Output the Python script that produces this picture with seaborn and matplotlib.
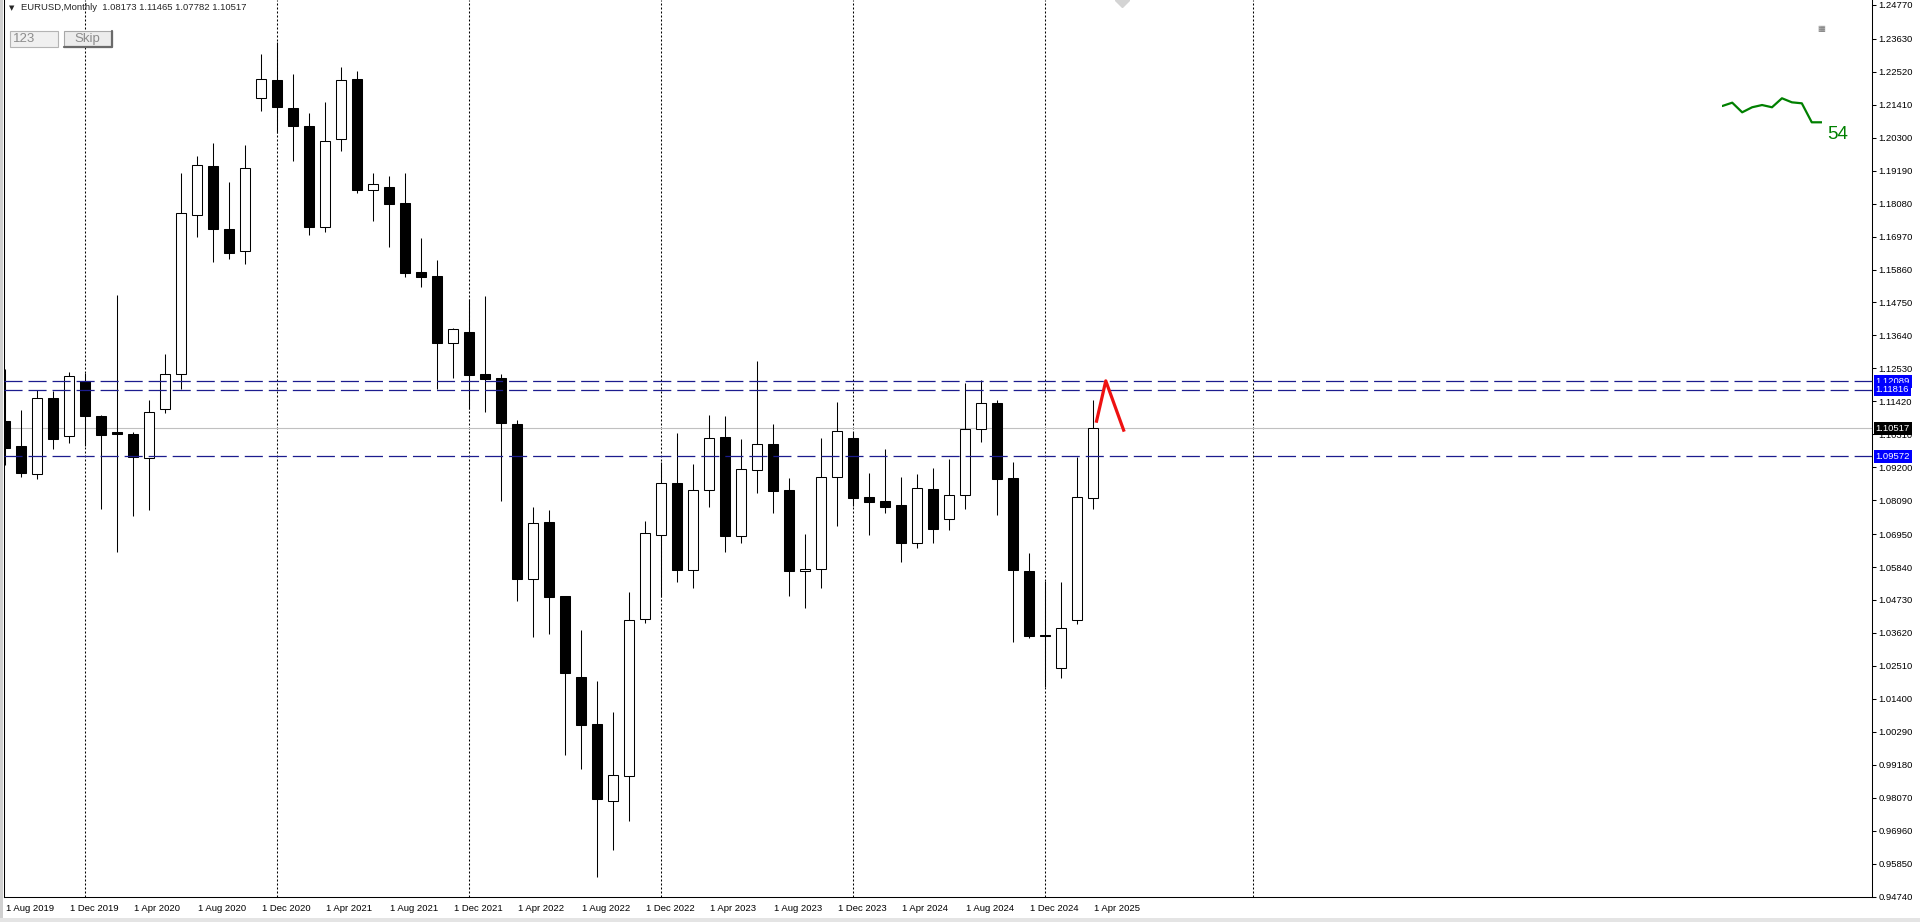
import numpy as np
import pandas as pd
import matplotlib
matplotlib.use("Agg")
import matplotlib.pyplot as plt
import matplotlib.transforms as mtransforms
from matplotlib.patches import Rectangle
from matplotlib.lines import Line2D
import seaborn as sns

sns.set_style("white")
plt.rcParams['font.family'] = ['Liberation Sans', 'DejaVu Sans']
plt.rcParams['lines.scale_dashes'] = False

W, H = 1920, 922

# monthly EURUSD candles, Aug 2019 .. Apr 2025
months = pd.date_range('2019-08-01', '2025-04-01', freq='MS')
opens = [1.1076, 1.0992, 1.0897, 1.1152, 1.1024, 1.1209, 1.1093, 1.1038, 1.1032, 1.0950,
         1.1115, 1.1233, 1.1769, 1.1935, 1.1722, 1.1649, 1.2163, 1.2224, 1.2129, 1.2069,
         1.1728, 1.2025, 1.2228, 1.1855, 1.1864, 1.1811, 1.1578, 1.1564, 1.1340, 1.1375,
         1.1234, 1.1220, 1.1067, 1.0545, 1.0735, 1.0486, 1.0214, 1.0055, 0.9795, 0.9881,
         1.0408, 1.0691, 1.0866, 1.0575, 1.0843, 1.1021, 1.0687, 1.0910, 1.0998, 1.0843,
         1.0572, 1.0576, 1.0888, 1.1018, 1.0820, 1.0806, 1.0793, 1.0666, 1.0847, 1.0745,
         1.0826, 1.1048, 1.1135, 1.0883, 1.0571, 1.0356, 1.0243, 1.0406, 1.08173]
highs = [1.1250, 1.1113, 1.1180, 1.1177, 1.1241, 1.1239, 1.1096, 1.1500, 1.1039, 1.1147,
         1.1300, 1.1910, 1.1968, 1.2011, 1.1881, 1.2006, 1.2312, 1.2353, 1.2245, 1.2112,
         1.2151, 1.2268, 1.2255, 1.1910, 1.1901, 1.1910, 1.1691, 1.1618, 1.1388, 1.1486,
         1.1497, 1.1233, 1.1079, 1.0787, 1.0776, 1.0486, 1.0372, 1.0200, 1.0097, 1.0501,
         1.0739, 1.0939, 1.1034, 1.0930, 1.1096, 1.1093, 1.1014, 1.1278, 1.1066, 1.0883,
         1.0694, 1.1018, 1.1139, 1.1040, 1.0900, 1.0982, 1.0886, 1.0896, 1.0917, 1.0947,
         1.1203, 1.1214, 1.1147, 1.0939, 1.0630, 1.0537, 1.0532, 1.0956, 1.11465]
lows = [1.0926, 1.0886, 1.0880, 1.0981, 1.1003, 1.0992, 1.0778, 1.0635, 1.0755, 1.0775,
        1.1102, 1.1183, 1.1696, 1.1612, 1.1622, 1.1603, 1.2121, 1.2045, 1.1953, 1.1703,
        1.1713, 1.1986, 1.1845, 1.1751, 1.1663, 1.1562, 1.1526, 1.1183, 1.1222, 1.1115,
        1.1107, 1.0806, 1.0470, 1.0349, 1.0358, 0.9951, 0.9903, 0.9539, 0.9631, 0.9730,
        1.0394, 1.0484, 1.0533, 1.0515, 1.0787, 1.0636, 1.0664, 1.0834, 1.0765, 1.0488,
        1.0447, 1.0515, 1.0723, 1.0791, 1.0692, 1.0767, 1.0602, 1.0649, 1.0666, 1.0709,
        1.0779, 1.1004, 1.0759, 1.0333, 1.0344, 1.0181, 1.0211, 1.0391, 1.07782]
closes = [1.0986, 1.0900, 1.1152, 1.1016, 1.1228, 1.1094, 1.1027, 1.1031, 1.0954, 1.1105,
          1.1233, 1.1775, 1.1938, 1.1722, 1.1643, 1.1927, 1.2227, 1.2135, 1.2071, 1.1730,
          1.2019, 1.2224, 1.1854, 1.1873, 1.1808, 1.1575, 1.1562, 1.1340, 1.1386, 1.1231,
          1.1218, 1.1068, 1.0545, 1.0733, 1.0484, 1.0226, 1.0053, 0.9802, 0.9883, 1.0405,
          1.0700, 1.0866, 1.0575, 1.0843, 1.1018, 1.0690, 1.0913, 1.0997, 1.0841, 1.0571,
          1.0576, 1.0888, 1.1041, 1.0818, 1.0804, 1.0787, 1.0666, 1.0849, 1.0713, 1.0826,
          1.1048, 1.1135, 1.0881, 1.0575, 1.0350, 1.0351, 1.0378, 1.0819, 1.10517]

date_labels = ['1 Aug 2019', '1 Dec 2019', '1 Apr 2020', '1 Aug 2020', '1 Dec 2020',
               '1 Apr 2021', '1 Aug 2021', '1 Dec 2021', '1 Apr 2022', '1 Aug 2022',
               '1 Dec 2022', '1 Apr 2023', '1 Aug 2023', '1 Dec 2023', '1 Apr 2024',
               '1 Aug 2024', '1 Dec 2024', '1 Apr 2025']
price_ticks = [1.24770, 1.23630, 1.22520, 1.21410, 1.20300, 1.19190, 1.18080, 1.16970,
               1.15860, 1.14750, 1.13640, 1.12530, 1.11420, 1.10310, 1.09200, 1.08090,
               1.06950, 1.05840, 1.04730, 1.03620, 1.02510, 1.01400, 1.00290, 0.99180,
               0.98070, 0.96960, 0.95850, 0.94740]

levels = [1.12089, 1.11816, 1.09572]
bid = 1.10517
separators = ['2020-01', '2021-01', '2022-01', '2023-01', '2024-01', '2025-01', '2026-02']

# hand drawn red "peak" trendline (bar index, price)
red_x = [68.2, 68.8, 69.95]
red_y = [1.1070, 1.1211, 1.1040]

# small green indicator in the corner
spark_v = [54.91, 55.28, 54.21, 54.77, 55.02, 54.77, 55.77, 55.32, 55.21, 53.10, 53.10]

df = pd.DataFrame({'date': months, 'open': opens, 'high': highs, 'low': lows, 'close': closes})
df['i'] = np.arange(len(df))
up = df['close'] >= df['open']


def fx(px):
    return px / W


def fy(py):
    return 1 - py / H


fig = plt.figure(figsize=(W / 100, H / 100), dpi=100)
fig.patch.set_facecolor('white')
ax = fig.add_axes([fx(4), fy(897), fx(1872) - fx(4), fy(0) - fy(897)])
ax.set_facecolor('white')

# candles
ax.vlines(df['i'], df['low'], df['high'], color='black', lw=0.75, zorder=3)
body_lo = df[['open', 'close']].min(axis=1)
body_h = (df['close'] - df['open']).abs().clip(lower=0.00025)
ax.bar(df['i'][up], body_h[up], bottom=body_lo[up], width=0.6,
       color='white', edgecolor='black', lw=0.75, zorder=4)
ax.bar(df['i'][~up], body_h[~up], bottom=body_lo[~up], width=0.6,
       color='black', edgecolor='black', lw=0.75, zorder=4)

# period separators
for s in separators:
    k = (pd.Period(s, 'M') - pd.Period('2019-08', 'M')).n
    ax.axvline(k, color='black', lw=0.75, dashes=(1.44, 1.44), zorder=1)

ax.axhline(bid, color='#c0c0c0', lw=0.8, zorder=1)
for lv in levels:
    ax.axhline(lv, color='#1c1c8e', lw=0.9, dashes=(13, 4.3), zorder=5)

ax.plot(red_x, red_y, color='#ee1111', lw=2.3, solid_capstyle='butt', zorder=6)
ax.plot([69.8], [1.24938], marker='D', ms=7, color='#d4d4d4', zorder=2)

ax.set_xlim(-0.0625, 116.69)
ax.set_ylim(0.94726, 1.24938)

for side in ['left', 'right', 'bottom']:
    ax.spines[side].set_color('black')
    ax.spines[side].set_linewidth(0.75)
ax.spines['top'].set_visible(False)

ax.yaxis.tick_right()
ax.set_yticks(price_ticks)
ax.set_yticklabels([f'{v:.5f}' for v in price_ticks], fontsize=6.8)
ax.tick_params(axis='y', direction='out', length=3, width=0.75, pad=1.5, colors='black')

ax.set_xticks(np.arange(0, len(df), 4))
ax.set_xticklabels(date_labels, fontsize=6.8, ha='left')
ax.tick_params(axis='x', direction='out', length=3, width=0.75, pad=2, colors='black')
shift = mtransforms.ScaledTranslation(1 / 100, 0, fig.dpi_scale_trans)
for lab in ax.get_xticklabels():
    lab.set_transform(lab.get_transform() + shift)

# price labels on the scale
yt = ax.get_yaxis_transform()
tx = (1875.5 - 4) / (1872 - 4)
for lv in levels:
    ax.text(tx, lv, f'{lv:.5f}', transform=yt, ha='left', va='center', fontsize=6.8,
            color='white', bbox=dict(boxstyle='square,pad=0.2', fc='#0000ff', ec='none'),
            clip_on=False, zorder=7)
ax.text(tx, bid, f'{bid:.5f}', transform=yt, ha='left', va='center', fontsize=6.8,
        color='white', bbox=dict(boxstyle='square,pad=0.2', fc='black', ec='none'),
        clip_on=False, zorder=7)

# header and buttons
fig.text(fx(9), fy(8), '\u25bc', fontsize=5, family='DejaVu Sans', va='center')
fig.text(fx(21), fy(7.5), 'EURUSD,Monthly  1.08173 1.11465 1.07782 1.10517',
         fontsize=6.8, va='center', ha='left')
fig.add_artist(Rectangle((fx(9.5), fy(47)), fx(48.5), 16 / H, transform=fig.transFigure,
                         fc='#f0f0f0', ec='#b4b4b4', lw=0.8))
fig.text(fx(13), fy(39), '123', fontsize=9.5, color='#8c8c8c', va='center')
fig.add_artist(Rectangle((fx(63.5), fy(47)), fx(48.5), 16 / H, transform=fig.transFigure,
                         fc='#ececec', ec='#a8a8a8', lw=0.8))
fig.add_artist(Line2D([fx(64), fx(112), fx(112)], [fy(47), fy(47), fy(31)],
                      transform=fig.transFigure, color='#6a6a6a', lw=1.6))
fig.text(fx(87.5), fy(39), 'Skip', fontsize=9.5, color='#8c8c8c', va='center', ha='center')

# window border
fig.add_artist(Rectangle((0, 0), fx(3), 1, transform=fig.transFigure, fc='#d0d0d0', ec='none'))
fig.add_artist(Rectangle((0, 0), 1, 4 / H, transform=fig.transFigure, fc='#e4e4e4', ec='none'))

# corner indicator
ax2 = fig.add_axes([fx(1722.3), fy(132.2), fx(99.4), 45 / H])
ax2.axis('off')
sns.lineplot(x=np.arange(len(spark_v)), y=spark_v, ax=ax2, color='#008000', linewidth=1.6)
ax2.set_xlim(0, 10)
ax2.set_ylim(52, 57)
fig.text(fx(1827.5), fy(139.3), '54', fontsize=13.5, color='#008000', va='baseline')
fig.text(fx(1817), fy(28), '\u25a6', fontsize=6, color='#707070', family='DejaVu Sans', va='center')

fig.savefig('out.png', dpi=100)
